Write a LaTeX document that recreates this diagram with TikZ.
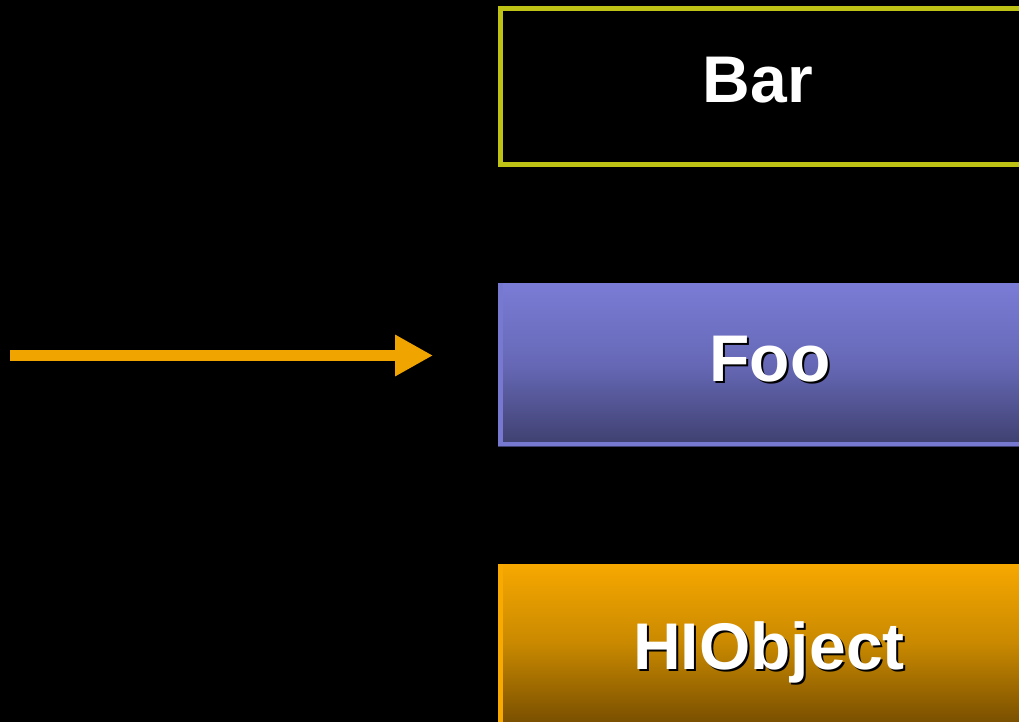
\documentclass[tikz,border=0pt]{standalone}
\usepackage{fontspec}
\setmainfont{Liberation Sans}
\usetikzlibrary{arrows.meta}

\definecolor{barline}{HTML}{BEC215}
\definecolor{fooTop}{HTML}{7A7CD6}
\definecolor{fooMid}{HTML}{6668B6}
\definecolor{fooBot}{HTML}{3E3F6E}
\definecolor{fooEdge}{HTML}{7779D0}
\definecolor{hiTop}{HTML}{F7A800}
\definecolor{hiMid}{HTML}{C98900}
\definecolor{hiBot}{HTML}{7A5000}
\definecolor{hiEdge}{HTML}{F9AA00}
\definecolor{arrowc}{HTML}{F0A400}

\begin{document}
\begin{tikzpicture}[x=1pt,y=-1pt,
  boxnode/.style={rectangle, inner sep=0pt, outer sep=0pt, anchor=north west},
  word/.style={font=\fontsize{66}{80}\selectfont\bfseries, text=white, anchor=base, inner sep=0pt},
  wordshadow/.style={word, text=black},
  edgestrip/.style={line width=4.5pt},
]
  % page and background
  \useasboundingbox (0,0) rectangle (1019,722);
  \fill[black] (0,0) rectangle (1019,722);
  \clip (0,0) rectangle (1019,722);

  % Bar: outlined box
  \node[boxnode, draw=barline, line width=5pt, minimum width=560pt, minimum height=156pt]
    (bar) at (500.5,8.5) {};
  \node[word] (barlabel) at (758,103) {Bar};

  % Foo: shaded box with a light edge on the left and bottom
  \node[boxnode, top color=fooTop, bottom color=fooBot, middle color=fooMid,
        minimum width=560pt, minimum height=163pt] (foo) at (498,283) {};
  \draw[fooEdge, edgestrip] ([xshift=2.25pt]foo.north west) -- ([xshift=2.25pt,yshift=2.25pt]foo.south west)
                            -- ([yshift=2.25pt]foo.south east);
  \node[wordshadow] (fooshadow) at (772,383.5) {Foo};
  \node[word] (foolabel) at (770,381.5) {Foo};

  % HIObject: shaded box with a bright left edge
  \node[boxnode, top color=hiTop, bottom color=hiBot, middle color=hiMid,
        minimum width=560pt, minimum height=158pt] (hiobj) at (498,564) {};
  \draw[hiEdge, edgestrip] ([xshift=2.25pt]hiobj.north west) -- ([xshift=2.25pt]hiobj.south west);
  \node[wordshadow] (hishadow) at (771,671) {HIObject};
  \node[word] (hilabel) at (769,669) {HIObject};

  % incoming arrow
  \coordinate (src) at (10,355.5);
  \coordinate (dst) at (433,355.5);
  \draw[arrowc, line width=11pt, -{Triangle[length=38pt,width=39pt]}] (src) -- (dst);
\end{tikzpicture}
\end{document}
